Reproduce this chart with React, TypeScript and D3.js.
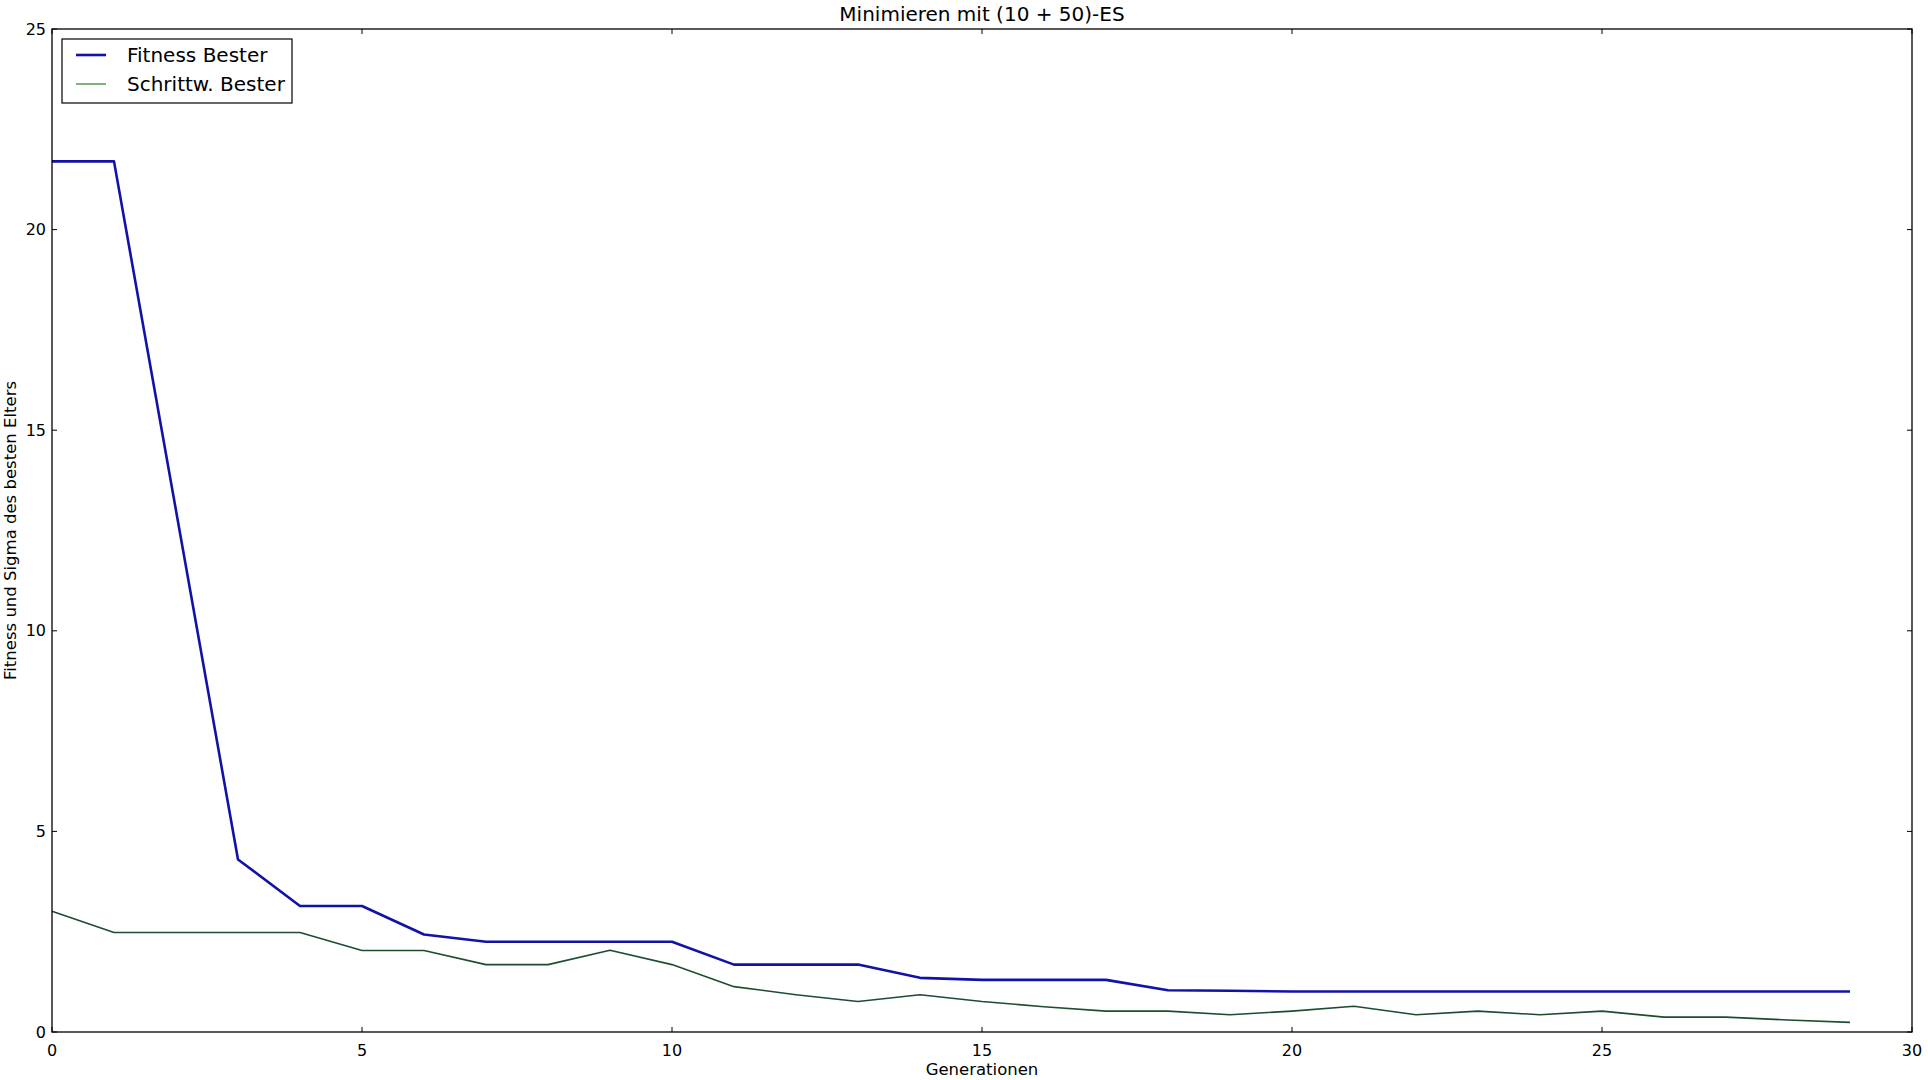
import React from "react";
import * as d3 from "d3";

// Generationen 0..29
const generations = d3.range(0, 30);

const fitnessBest = [
  21.7, 21.7, 13.0, 4.3, 3.14, 3.14, 2.43, 2.25, 2.25, 2.25,
  2.25, 1.68, 1.68, 1.68, 1.35, 1.3, 1.3, 1.3, 1.04, 1.03,
  1.01, 1.01, 1.01, 1.01, 1.01, 1.01, 1.01, 1.01, 1.01, 1.01,
];

const sigmaBest = [
  3.01, 2.48, 2.48, 2.48, 2.48, 2.03, 2.03, 1.68, 1.68, 2.04,
  1.68, 1.13, 0.93, 0.76, 0.93, 0.76, 0.63, 0.52, 0.52, 0.43,
  0.52, 0.64, 0.43, 0.52, 0.43, 0.52, 0.37, 0.37, 0.3, 0.24,
];

const xTicks = [0, 5, 10, 15, 20, 25, 30];
const yTicks = [0, 5, 10, 15, 20, 25];

const title = "Minimieren mit (10 + 50)-ES";
const xLabel = "Generationen";
const yLabel = "Fitness und Sigma des besten Elters";
const legendLabels = ["Fitness Bester", "Schrittw. Bester"];

const W = 1928;
const H = 1080;
const margin = { top: 29, right: 16, bottom: 48, left: 52 };
const font = "'DejaVu Sans', sans-serif";

const App = () => {
  const innerW = W - margin.left - margin.right;
  const innerH = H - margin.top - margin.bottom;

  const x = d3.scaleLinear().domain([0, 30]).range([0, innerW]);
  const y = d3.scaleLinear().domain([0, 25]).range([innerH, 0]);

  const line = d3
    .line<number>()
    .x((_, i) => x(generations[i]))
    .y((d) => y(d));

  const tickLen = 5;

  return (
    <svg
      width={W}
      height={H}
      style={{ position: "absolute", left: 0, top: 0, background: "#fff" }}
      fontFamily={font}
    >
      <rect width={W} height={H} fill="#fff" />
      <text x={margin.left + innerW / 2} y={21} textAnchor="middle" fontSize={20}>
        {title}
      </text>
      <g transform={`translate(${margin.left},${margin.top})`}>
        <path d={line(fitnessBest) || ""} fill="none" stroke="#1212a8" strokeWidth={2.6} strokeLinejoin="round" />
        <path d={line(sigmaBest) || ""} fill="none" stroke="#1d4d30" strokeWidth={1.6} strokeLinejoin="round" />

        {/* x ticks */}
        {xTicks.map((t) => (
          <g key={`x${t}`}>
            <line x1={x(t)} x2={x(t)} y1={innerH} y2={innerH - tickLen} stroke="#000" />
            <line x1={x(t)} x2={x(t)} y1={0} y2={tickLen} stroke="#000" />
            <text x={x(t)} y={innerH + 24} textAnchor="middle" fontSize={16}>
              {t}
            </text>
          </g>
        ))}
        {/* y ticks */}
        {yTicks.map((t) => (
          <g key={`y${t}`}>
            <line x1={0} x2={tickLen} y1={y(t)} y2={y(t)} stroke="#000" />
            <line x1={innerW} x2={innerW - tickLen} y1={y(t)} y2={y(t)} stroke="#000" />
            <text x={-6} y={y(t)} dy="0.35em" textAnchor="end" fontSize={16}>
              {t}
            </text>
          </g>
        ))}

        <rect x={0} y={0} width={innerW} height={innerH} fill="none" stroke="#000" strokeWidth={1.3} />

        {/* legend */}
        <g transform="translate(10,10)">
          <rect x={0} y={0} width={230} height={64} fill="#fff" stroke="#000" strokeWidth={1.2} />
          <line x1={14} x2={44} y1={16} y2={16} stroke="#1212a8" strokeWidth={2.6} />
          <line x1={14} x2={44} y1={45} y2={45} stroke="#3a8a3a" strokeWidth={1.3} />
          <text x={65} y={16} dy="0.35em" fontSize={20}>
            {legendLabels[0]}
          </text>
          <text x={65} y={45} dy="0.35em" fontSize={20}>
            {legendLabels[1]}
          </text>
        </g>
      </g>

      <text x={margin.left + innerW / 2} y={1075} textAnchor="middle" fontSize={16.5}>
        {xLabel}
      </text>
      <text
        transform={`translate(16,${margin.top + innerH / 2}) rotate(-90)`}
        textAnchor="middle"
        fontSize={16.5}
      >
        {yLabel}
      </text>
    </svg>
  );
};

export default App;
